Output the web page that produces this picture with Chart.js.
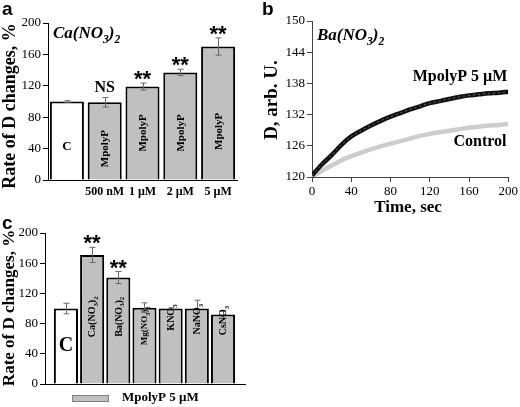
<!DOCTYPE html>
<html><head><meta charset="utf-8">
<script src="https://cdn.jsdelivr.net/npm/chart.js@4.4.0/dist/chart.umd.min.js"></script>
<style>
html,body{margin:0;padding:0;background:#fff;width:520px;height:407px;overflow:hidden}
canvas{position:absolute;display:block}
</style></head><body>
<canvas id="ca" width="260" height="210" style="left:0;top:0"></canvas>
<canvas id="cb" width="260" height="220" style="left:260px;top:0"></canvas>
<canvas id="cc" width="260" height="197" style="left:0;top:210px"></canvas>
<script>
// ---------- data ----------
const panelACategories = ['', '500 nM', '1 µM', '2 µM', '5 µM'];
const panelAValues = [100, 99, 119, 137, 170];
const panelAErrors = [1, 6, 4.5, 4, 11];
const panelAMarks = ['', 'NS', '**', '**', '**'];
const panelABarText = ['C', 'MpolyP', 'MpolyP', 'MpolyP', 'MpolyP'];

const timeSec = [0,10,20,30,40,50,60,70,80,90,100,110,120,130,140,150,160,170,180,190,200];
const mpolypSeries = [120.3,122.4,124.2,126.2,127.8,128.9,129.9,130.8,131.6,132.3,133.0,133.6,134.2,134.6,135.0,135.4,135.7,135.9,136.1,136.2,136.4];
const controlSeries = [120.0,121.2,122.2,123.2,124.0,124.7,125.3,125.9,126.4,126.9,127.4,127.9,128.3,128.6,128.9,129.2,129.5,129.7,129.9,130.0,130.2];

const panelCCategories = ['C', 'Ca(NO_3)_2', 'Ba(NO_3)_2', 'Mg(NO_3)_2', 'KNO_3', 'NaNO_3', 'CsNO_3'];
const panelCValues = [100, 171, 141, 101, 100, 100, 92];
const panelCErrors = [7, 10, 8, 6.5, 1, 11, 5];
const panelCMarks = ['', '**', '**', '', '', '', ''];

// ---------- helpers ----------
const SERIF = '"Liberation Serif","Times New Roman",serif';
const SANS = '"Liberation Sans",Arial,sans-serif';
const GREY = '#c0c0c0';

function richParts(s){
  const parts=[];
  for(let i=0;i<s.length;i++){
    if(s[i]==='_'){parts.push({t:s[i+1],sub:true});i++;}
    else if(parts.length && !parts[parts.length-1].sub){parts[parts.length-1].t+=s[i];}
    else parts.push({t:s[i],sub:false});
  }
  return parts;
}
function drawRich(ctx,s,x,y,size,style,align){
  const parts=richParts(s), sub=size*0.68;
  let w=0;
  parts.forEach(p=>{ctx.font=style+' '+(p.sub?sub:size)+'px '+SERIF;p.w=ctx.measureText(p.t).width;w+=p.w;});
  let cx = align==='center' ? x-w/2 : x;
  ctx.textAlign='left';ctx.textBaseline='alphabetic';
  parts.forEach(p=>{ctx.font=style+' '+(p.sub?sub:size)+'px '+SERIF;ctx.fillText(p.t,cx,p.sub?y+size*0.28:y);cx+=p.w;});
}
function vTitle(ctx,text,cx,cy,size){
  ctx.save();ctx.translate(cx,cy);ctx.rotate(-Math.PI/2);
  ctx.font='bold '+size+'px '+SERIF;ctx.textAlign='center';ctx.textBaseline='middle';ctx.fillStyle='#000';
  ctx.fillText(text,0,0);ctx.restore();
}
function panelLetter(ctx,l,x,y){
  ctx.save();ctx.font='bold 19px '+SANS;ctx.fillStyle='#000';ctx.textAlign='left';ctx.textBaseline='alphabetic';
  ctx.fillText(l,x,y);ctx.restore();
}

const barExtras = {
  id:'barExtras',
  afterDatasetsDraw(chart,args,o){
    const ctx=chart.ctx, ys=chart.scales.y, meta=chart.getDatasetMeta(0);
    ctx.save();
    o.values.forEach((v,i)=>{
      const el=meta.data[i];
      const x=Math.round(el.x)+0.5;
      const top=ys.getPixelForValue(v+o.errors[i]), bot=ys.getPixelForValue(v-o.errors[i]);
      ctx.strokeStyle='#6a6a6a';ctx.lineWidth=1;
      ctx.beginPath();
      ctx.moveTo(x,top);ctx.lineTo(x,bot);
      ctx.moveTo(x-3,top);ctx.lineTo(x+3,top);
      ctx.moveTo(x-3,bot);ctx.lineTo(x+3,bot);
      ctx.stroke();
      ctx.fillStyle='#000';
      const m=o.marks[i];
      if(m==='**'){ctx.font='bold 22px '+SANS;ctx.textAlign='center';ctx.textBaseline='alphabetic';ctx.fillText('**',el.x,top-9.5+12.5);}
      else if(m){ctx.font='bold 16px '+SERIF;ctx.textAlign='center';ctx.textBaseline='middle';ctx.fillText(m,el.x,top-10);}
      const t=o.barText[i];
      const cy=ys.getPixelForValue(o.textCenters[i]);
      if(t==='C'){
        ctx.font='bold '+o.cSize+'px '+SERIF;ctx.textAlign='center';ctx.textBaseline='middle';ctx.fillText('C',el.x,cy);
      } else if(t){
        const sz=o.rotSizes[i];
        ctx.save();ctx.translate(el.x,cy);ctx.rotate(-Math.PI/2);
        drawRich(ctx,t,0,sz*0.33,sz,'bold','center');
        ctx.restore();
      }
    });
    ctx.restore();
  }
};

const yScaleCommon = {
  min:0,max:200,
  ticks:{stepSize:40,color:'#000',font:{family:SERIF,size:13},padding:2},
  grid:{drawOnChartArea:false,drawTicks:true,tickLength:5,color:'#000'},
  border:{display:true,color:'#000',width:1}
};

// ---------- panel a ----------
new Chart(document.getElementById('ca'),{
  type:'bar',
  data:{labels:panelACategories,datasets:[{
    data:panelAValues,
    backgroundColor:panelAValues.map((v,i)=>i===0?'#ffffff':GREY),
    borderColor:'#000',borderWidth:2,borderSkipped:'start',
    categoryPercentage:1,barPercentage:0.9
  }]},
  options:{
    responsive:false,animation:false,
    layout:{padding:{top:23,right:23,left:0,bottom:0}},
    plugins:{legend:{display:false},tooltip:{enabled:false},
      barExtras:{values:panelAValues,errors:panelAErrors,marks:panelAMarks,barText:panelABarText,
        textCenters:[42,40,60,60,62],cSize:13,rotSizes:[11,11,11,11,11]}
    },
    scales:{
      x:{afterFit:s=>{s.height=30;},
        ticks:{color:'#000',font:{family:SERIF,size:12,weight:'bold'},padding:5,maxRotation:0,autoSkip:false},
        grid:{display:false,drawTicks:false},border:{display:true,color:'#000',width:1}},
      y:Object.assign({},yScaleCommon,{afterFit:s=>{s.width=48;}})
    }
  },
  plugins:[barExtras,{
    id:'extraA',
    afterDraw(chart){
      const ctx=chart.ctx;
      vTitle(ctx,'Rate of D changes, %',10,106,18);
      ctx.save();ctx.fillStyle='#000';
      drawRich(ctx,'Ca(NO_3)_2',53,38,17,'italic bold','left');
      ctx.restore();
      panelLetter(ctx,'a',2,15);
    }
  }]
});

// ---------- panel b ----------
new Chart(document.getElementById('cb'),{
  type:'line',
  data:{datasets:[
    {data:timeSec.map((t,i)=>({x:t,y:mpolypSeries[i]})),borderColor:'#6a6a6a',borderWidth:1,borderDash:[2,3],pointRadius:0,cubicInterpolationMode:'monotone',order:0},
    {data:timeSec.map((t,i)=>({x:t,y:mpolypSeries[i]})),borderColor:'#111',borderWidth:4.5,pointRadius:0,cubicInterpolationMode:'monotone',order:1},
    {data:timeSec.map((t,i)=>({x:t,y:controlSeries[i]})),borderColor:'#cdcdcd',borderWidth:4.5,pointRadius:0,cubicInterpolationMode:'monotone',order:2}
  ]},
  options:{
    responsive:false,animation:false,
    layout:{padding:{top:21,right:11,left:0,bottom:0}},
    plugins:{legend:{display:false},tooltip:{enabled:false}},
    scales:{
      x:{type:'linear',min:0,max:200,afterFit:s=>{s.height=43;},
        ticks:{stepSize:40,color:'#000',font:{family:SERIF,size:13},padding:2,maxRotation:0},
        grid:{drawOnChartArea:false,drawTicks:true,tickLength:5,color:'#444'},border:{display:true,color:'#444',width:1}},
      y:{min:120,max:150,afterFit:s=>{s.width=52;},
        ticks:{stepSize:6,color:'#000',font:{family:SERIF,size:13},padding:2},
        grid:{drawOnChartArea:false,drawTicks:true,tickLength:5,color:'#444'},border:{display:true,color:'#444',width:1}}
    }
  },
  plugins:[{
    id:'extraB',
    afterDraw(chart){
      const ctx=chart.ctx;
      vTitle(ctx,'D, arb. U.',12,100,19);
      ctx.save();ctx.fillStyle='#000';
      ctx.font='bold 17px '+SERIF;ctx.textAlign='center';ctx.textBaseline='middle';
      ctx.fillText('Time, sec',148,208);
      ctx.font='bold 16px '+SERIF;
      ctx.fillText('MpolyP 5 µM',200,77);
      ctx.fillText('Control',220,142);
      drawRich(ctx,'Ba(NO_3)_2',57,40,17,'italic bold','left');
      ctx.restore();
      panelLetter(ctx,'b',2,15);
    }
  }]
});

// ---------- panel c ----------
new Chart(document.getElementById('cc'),{
  type:'bar',
  data:{datasets:[{
    data:panelCValues.map((v,i)=>({x:i,y:v})),
    backgroundColor:panelCValues.map((v,i)=>i===0?'#ffffff':GREY),
    borderColor:'#000',borderWidth:2,borderSkipped:'start',
    categoryPercentage:1,barPercentage:0.92
  }]},
  options:{
    responsive:false,animation:false,
    layout:{padding:{top:23,right:15,left:0,bottom:0}},
    plugins:{legend:{display:false},tooltip:{enabled:false},
      barExtras:{values:panelCValues,errors:panelCErrors,marks:panelCMarks,barText:panelCCategories,
        textCenters:[50,89,89,77,88,86,84],cSize:20,rotSizes:[10,10,10,9,10,10,10]}
    },
    scales:{
      x:{type:'linear',offset:false,min:-0.8,max:6.84,afterFit:s=>{s.height=23;},
        ticks:{display:false},grid:{display:false,drawTicks:false,offset:false},border:{display:true,color:'#000',width:1}},
      y:Object.assign({},yScaleCommon,{afterFit:s=>{s.width=45;}})
    }
  },
  plugins:[barExtras,{
    id:'extraC',
    afterDraw(chart){
      const ctx=chart.ctx;
      vTitle(ctx,'Rate of D changes, %',10,98,17);
      ctx.save();
      ctx.fillStyle=GREY;ctx.fillRect(72.5,185.5,36,6);
      ctx.strokeStyle='#808080';ctx.lineWidth=1;ctx.strokeRect(72.5,185.5,36,6);
      ctx.fillStyle='#000';ctx.font='bold 13px '+SERIF;ctx.textAlign='left';ctx.textBaseline='middle';
      ctx.fillText('MpolyP 5 µM',122,188);
      ctx.restore();
      panelLetter(ctx,'c',2,19);
    }
  }]
});
</script>
</body></html>
